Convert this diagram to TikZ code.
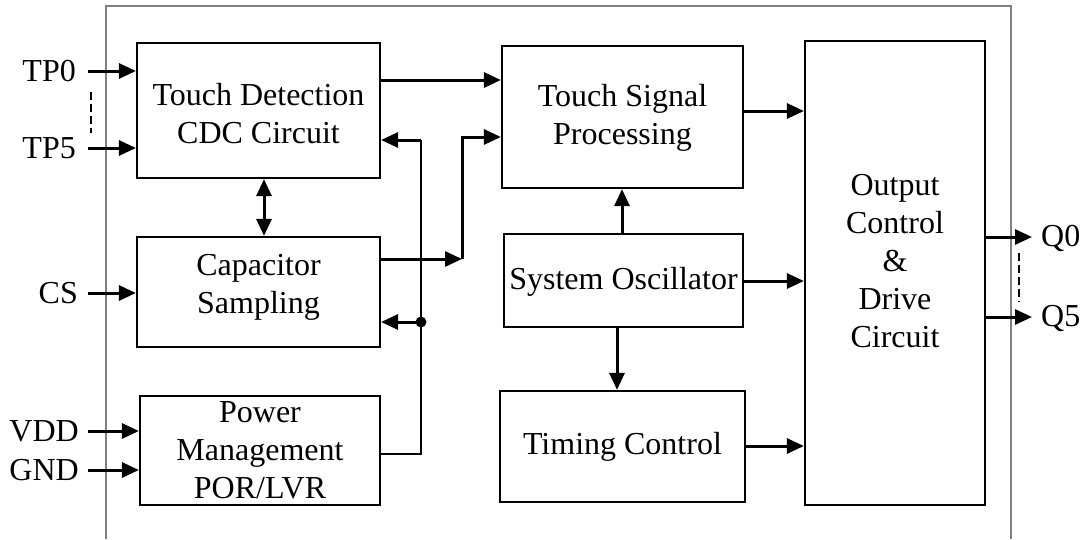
\documentclass[tikz,border=0pt]{standalone}
\usepackage{fontspec}
\setmainfont{Liberation Serif}
\usetikzlibrary{arrows.meta}
\begin{document}
\begin{tikzpicture}[x=1pt,y=-1pt,
  box/.style={draw=black,line width=2.2pt,inner sep=0pt},
  txt/.style={align=center,inner sep=0pt,font=\fontsize{32}{38}\selectfont},
  lbl/.style={inner sep=0pt,font=\fontsize{32}{38}\selectfont},
  arr/.style={line width=3pt,-{Triangle[length=17pt,width=15pt]}},
  darr/.style={line width=3pt,{Triangle[length=17pt,width=15pt]}-{Triangle[length=17pt,width=15pt]}},
  wire/.style={line width=1.8pt},
  frame/.style={draw=black!50,line width=1.6pt},
  dotted line/.style={line width=2.2pt,dash pattern=on 8pt off 4pt}]
\useasboundingbox (0,0) rectangle (1085,539);
% outer frame
\coordinate (f1) at (106,539);
\coordinate (f2) at (106,6);
\coordinate (f3) at (1011,6);
\coordinate (f4) at (1011,539);
\draw[frame] (f1) -- (f2) -- (f3) -- (f4);
% boxes
\node[box,minimum width=243pt,minimum height=135pt] (td) at (258.5,110.5) {};
\node[txt] (tdT) at (258.5,114) {Touch Detection\\CDC Circuit};
\node[box,minimum width=243pt,minimum height=110pt] (cap) at (258.5,292) {};
\node[txt] (capT) at (258.5,287) {Capacitor\\Sampling};
\node[box,minimum width=240pt,minimum height=109pt] (pwr) at (260,450.5) {};
\node[txt] (pwrT) at (260,450) {Power\\Management\\POR/LVR};
\node[box,minimum width=241pt,minimum height=142pt] (tsp) at (622.5,117) {};
\node[txt] (tspT) at (622.5,118) {Touch Signal\\Processing};
\node[box,minimum width=239pt,minimum height=93pt] (osc) at (623.5,280.5) {};
\node[txt] (oscT) at (623.5,282) {System Oscillator};
\node[box,minimum width=245pt,minimum height=111pt] (tim) at (622.5,446.5) {};
\node[txt] (timT) at (622.5,447) {Timing Control};
\node[box,minimum width=180pt,minimum height=464pt] (out) at (895,273) {};
\node[txt] (outT) at (895,261) {Output\\Control\\\&\\Drive\\Circuit};
% pin labels
\node[lbl,anchor=east] (tp0) at (76,71) {TP0};
\node[lbl,anchor=east] (tp5) at (76,148) {TP5};
\node[lbl,anchor=east] (cs) at (78,293) {CS};
\node[lbl,anchor=east] (vdd) at (79,431) {VDD};
\node[lbl,anchor=east] (gnd) at (79,470) {GND};
\node[lbl,anchor=west] (q0) at (1041,238) {Q0};
\node[lbl,anchor=west] (q5) at (1041,318) {Q5};
% input arrows
\draw[arr] ([xshift=12pt]tp0.east) -- (td.west |- tp0.east);
\draw[arr] ([xshift=12pt]tp5.east) -- (td.west |- tp5.east);
\draw[arr] ([xshift=10pt]cs.east) -- (cap.west |- cs.east);
\draw[arr] ([xshift=9pt]vdd.east) -- (pwr.west |- vdd.east);
\draw[arr] ([xshift=9pt]gnd.east) -- (pwr.west |- gnd.east);
% dashed pin ranges
\coordinate (dl1) at (91,92);
\coordinate (dl2) at (91,133);
\draw[dotted line] (dl1) -- (dl2);
\coordinate (dr1) at (1019,253);
\coordinate (dr2) at (1019,302);
\draw[dotted line] (dr1) -- (dr2);
% outputs
\coordinate (qe0) at (1032,237);
\coordinate (qe5) at (1032,317);
\draw[arr] (out.east |- qe0) -- (qe0);
\draw[arr] (out.east |- qe5) -- (qe5);
% TD -> TSP
\coordinate (h0) at (0,80);
\draw[arr] (td.east |- h0) -- (tsp.west |- h0);
% TD <-> Cap
\coordinate (d1) at (264,0);
\draw[darr] (td.south -| d1) -- (cap.north -| d1);
% Cap -> TSP
\coordinate (b1) at (462,259);
\coordinate (b2) at (462,137);
\draw[arr] (cap.east |- b1) -- (b1);
\draw[arr] (b1) -- (b2) -- (tsp.west |- b2);
% power wire
\coordinate (pwB) at (421,454);
\coordinate (j1) at (421,140);
\coordinate (dot) at (421,322);
\draw[wire] (pwr.east |- pwB) -- (pwB) -- (j1);
\draw[arr] (j1) -- (td.east |- j1);
\draw[arr] (dot) -- (cap.east |- dot);
\fill (dot) circle (5.5pt);
% oscillator connections
\coordinate (v1) at (622,0);
\draw[arr] (osc.north -| v1) -- (tsp.south -| v1);
\coordinate (v2) at (617,0);
\draw[arr] (osc.south -| v2) -- (tim.north -| v2);
% to output block
\coordinate (h1) at (0,111);
\draw[arr] (tsp.east |- h1) -- (out.west |- h1);
\coordinate (h2) at (0,281);
\draw[arr] (osc.east |- h2) -- (out.west |- h2);
\coordinate (h3) at (0,446);
\draw[arr] (tim.east |- h3) -- (out.west |- h3);
\end{tikzpicture}
\end{document}
